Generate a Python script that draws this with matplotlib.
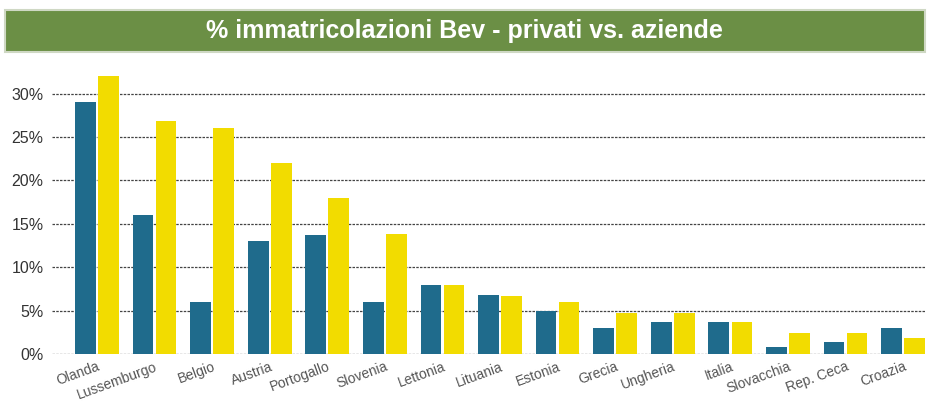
import numpy as np
import matplotlib
matplotlib.use("Agg")
import matplotlib.pyplot as plt
from matplotlib.patches import Rectangle
from matplotlib.ticker import FuncFormatter

# Data
paesi = ["Olanda", "Lussemburgo", "Belgio", "Austria", "Portogallo", "Slovenia",
         "Lettonia", "Lituania", "Estonia", "Grecia", "Ungheria", "Italia",
         "Slovacchia", "Rep. Ceca", "Croazia"]
privati = [29, 16, 6, 13, 13.7, 6, 8, 6.8, 5, 3, 3.7, 3.7, 0.8, 1.4, 3]
aziende = [32, 26.8, 26, 22, 18, 13.8, 8, 6.7, 6, 4.7, 4.7, 3.7, 2.4, 2.4, 1.8]
yticks = [0, 5, 10, 15, 20, 25, 30]

plt.rcParams["font.family"] = ["Liberation Sans", "DejaVu Sans"]

fig = plt.figure(figsize=(9.29, 4.05), dpi=100)
fig.patch.set_facecolor("white")

# Green title band
fig.patches.append(Rectangle((5 / 929, 1 - 52 / 405), 920 / 929, 42 / 405,
                             transform=fig.transFigure, facecolor="#6b8f45",
                             edgecolor="#cfd8c4", linewidth=1.5, zorder=0))
fig.text(0.5, 1 - 31 / 405, "% immatricolazioni Bev - privati vs. aziende",
         ha="center", va="center", color="white", fontsize=18, fontweight="bold")

ax = fig.add_axes([52 / 929, 1 - 354 / 405, 873 / 929, 289 / 405])
x = np.arange(len(paesi))
w = 0.36
ax.bar(x - w / 2 - 0.02, privati, w, color="#1f6b8c", edgecolor="none", zorder=3)
ax.bar(x + w / 2 + 0.02, aziende, w, color="#f2dc00", edgecolor="none", zorder=3)

ax.set_xlim(-0.78, 14.38)
ax.set_ylim(0, 33.3)
ax.set_yticks(yticks)
ax.yaxis.set_major_formatter(FuncFormatter(lambda v, p: f"{int(v)}%"))
ax.tick_params(axis="y", length=0, labelsize=11.5, labelcolor="#333333", pad=6)
ax.tick_params(axis="x", length=0, labelsize=10, labelcolor="#555555", pad=4)
ax.set_xticks(x)
ax.set_xticklabels(paesi, rotation=20, ha="right", rotation_mode="anchor")
ax.grid(axis="y", color="#444444", linestyle=(0, (2, 1)), linewidth=0.9, zorder=0)
for s in ax.spines.values():
    s.set_visible(False)

fig.savefig("out.png", dpi=100)
